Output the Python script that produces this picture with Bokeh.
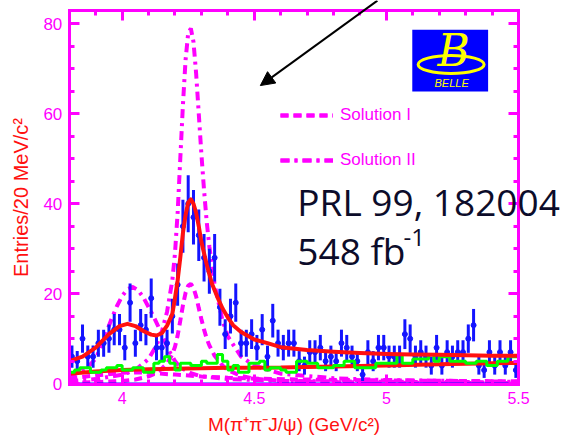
import numpy as np
from bokeh.plotting import figure
from bokeh.models import (Range1d, LinearAxis, FixedTicker, Label, Legend,
                          LegendItem, BoxAnnotation, Arrow, NormalHead, ColumnDataSource)
from bokeh.embed import file_html
from bokeh.resources import INLINE

# ---- histogram binning (20 MeV bins) ----
bin_lo, bin_hi, bin_w = 3.80, 5.50, 0.02
y_lo, y_hi = -0.2, 83.0

# events per bin, pi+ pi- J/psi candidates
counts = [6, 5, 10, 6, 6, 9, 9, 10, 12, 12,
          8, 18, 9, 13, 12, 19, 8, 8, 9, 15,
          22, 35, 40, 37, 33, 28, 25, 28, 17, 11,
          15, 18, 9, 9, 11, 8, 12, 6, 14, 9,
          8, 9, 9, 5, 4, 7, 7, 8, 5, 6,
          5, 9, 8, 6, 5, 2, 7, 5, 8, 8,
          6, 6, 6, 11, 10, 6, 7, 6, 4, 8,
          4, 7, 6, 7, 7, 10, 13, 4, 3, 7,
          4, 7, 4, 7, 3]

# J/psi mass sideband background (green histogram)
sideband = [2.5, 3.0, 3.5, 3.5, 2.5, 2.5, 3.0, 3.5, 3.5, 4.0,
            3.0, 3.0, 3.5, 3.5, 2.5, 2.5, 4.5, 5.0, 6.0, 4.5,
            3.0, 4.5, 4.5, 4.0, 4.0, 5.0, 4.5, 4.5, 6.5, 5.0,
            3.0, 4.0, 2.5, 2.5, 4.5, 4.5, 5.0, 3.0, 3.5, 3.5,
            3.0, 2.5, 2.5, 5.0, 5.0, 4.5, 4.5, 3.5, 3.5, 3.5,
            4.0, 4.0, 5.0, 5.0, 3.5, 3.5, 3.5, 3.5, 4.5, 4.5,
            4.5, 4.5, 6.5, 4.5, 4.5, 5.5, 5.5, 5.5, 6.5, 5.0,
            6.0, 6.0, 5.0, 5.0, 5.0, 4.5, 4.5, 5.0, 5.0, 4.0,
            4.0, 5.0, 5.0, 6.0, 6.0]

# total fit (red)
fit_x = [3.80, 3.85, 3.90, 3.95, 3.99, 4.02, 4.05, 4.08, 4.11, 4.13, 4.15, 4.17,
         4.19, 4.20, 4.21, 4.22, 4.23, 4.24, 4.25, 4.26, 4.27, 4.28, 4.29, 4.30,
         4.32, 4.34, 4.36, 4.38, 4.40, 4.42, 4.45, 4.50, 4.55, 4.60, 4.70, 4.80,
         4.90, 5.00, 5.10, 5.20, 5.30, 5.40, 5.50]
fit_y = [5.0, 6.0, 8.0, 11.0, 12.8, 13.3, 12.8, 11.7, 10.9, 10.7, 11.2, 12.9,
         15.5, 19.0, 23.0, 28.0, 33.5, 37.5, 40.3, 41.0, 40.0, 38.0, 35.0, 31.5,
         26.5, 22.2, 19.3, 16.7, 14.7, 13.0, 11.5, 9.8, 9.0, 8.1, 7.5, 7.1,
         6.8, 6.6, 6.5, 6.4, 6.3, 6.2, 6.2]

# fitted smooth background (red, lower)
bkg_x = [3.80, 3.90, 4.00, 4.10, 4.20, 4.40, 4.60, 4.80, 5.00, 5.20, 5.40, 5.50]
bkg_y = [2.2, 2.7, 3.0, 3.2, 3.3, 3.5, 3.6, 3.8, 4.0, 4.3, 4.5, 4.6]

# Solution I components (dashed)
s1_y4008_x = [3.80, 3.90, 4.00, 4.05, 4.10, 4.20, 4.30, 4.40, 4.50, 4.70, 5.00, 5.50]
s1_y4008_y = [1.2, 1.8, 2.4, 2.5, 2.4, 2.0, 1.6, 1.3, 1.1, 0.9, 0.7, 0.5]
s1_y4260_x = [3.80, 3.90, 4.00, 4.05, 4.10, 4.13, 4.15, 4.17, 4.19, 4.20, 4.21, 4.22,
              4.23, 4.24, 4.25, 4.26, 4.27, 4.28, 4.29, 4.30, 4.31, 4.32, 4.33, 4.35,
              4.38, 4.40, 4.45, 4.50, 4.60, 4.80, 5.00, 5.50]
s1_y4260_y = [0.2, 0.3, 0.6, 0.9, 1.6, 2.4, 3.3, 4.5, 6.5, 8.2, 10.7, 14.0,
              17.4, 20.2, 21.8, 22.2, 21.3, 19.4, 16.8, 14.3, 12.0, 10.0, 8.5, 6.2,
              4.0, 3.0, 1.7, 1.1, 0.6, 0.35, 0.2, 0.1]

# Solution II components (dash-dot)
s2_y4008_x = [3.80, 3.84, 3.88, 3.90, 3.92, 3.94, 3.96, 3.98, 4.00, 4.02, 4.04, 4.06,
              4.08, 4.10, 4.12, 4.14, 4.16, 4.18, 4.20, 4.22, 4.26, 4.30, 4.40, 4.60,
              5.00, 5.50]
s2_y4008_y = [1.5, 2.6, 4.3, 5.6, 8.2, 11.3, 14.4, 17.2, 19.5, 21.0, 21.5, 20.8,
              19.2, 17.0, 14.8, 12.3, 9.6, 7.0, 5.0, 3.6, 2.3, 1.6, 1.0, 0.6,
              0.4, 0.3]
s2_y4260_x = [3.80, 3.90, 4.00, 4.05, 4.10, 4.13, 4.15, 4.17, 4.19, 4.20, 4.21, 4.22,
              4.23, 4.24, 4.25, 4.26, 4.27, 4.28, 4.29, 4.30, 4.31, 4.32, 4.33, 4.35,
              4.38, 4.40, 4.45, 4.50, 4.60, 4.80, 5.00, 5.50]
s2_y4260_y = [0.5, 1.0, 2.0, 3.0, 5.5, 8.5, 11.5, 16.0, 23.0, 29.0, 38.0, 50.0,
              62.0, 72.0, 78.0, 79.0, 76.0, 69.0, 60.0, 51.0, 43.0, 36.0, 30.5, 22.0,
              14.0, 10.5, 6.0, 4.0, 2.2, 1.2, 0.8, 0.4]

x_major = [4.0, 4.5, 5.0, 5.5]
x_minor = [3.8, 3.9, 4.0, 4.1, 4.2, 4.3, 4.4, 4.5, 4.6, 4.7, 4.8, 4.9,
           5.0, 5.1, 5.2, 5.3, 5.4, 5.5]
y_major = [0, 20, 40, 60, 80]
y_minor = list(range(0, 85, 5))

MAGENTA = "#ff00ff"
RED = "#ff1010"
BLUE = "#1414ff"
GREEN = "#00ff00"
FONT = "Liberation Sans"

# canvas geometry: the plot box spans 69..518 px horizontally, 10..384 px vertically
W, H = 562, 439
box_l, box_r, box_t, box_b = 68.8, 518.0, 10.0, 384.0
sx = (box_r - box_l) / (bin_hi - bin_lo)
sy = (box_b - box_t) / (y_hi - y_lo)
x_range = Range1d(bin_lo - box_l / sx, bin_hi + (W - box_r) / sx)
y_range = Range1d(y_lo - (H - box_b) / sy, y_hi + box_t / sy)

counts = np.array(counts, dtype=float)
centers = bin_lo + bin_w * (np.arange(len(counts)) + 0.5)
errs = np.sqrt(counts)
edges = bin_lo + bin_w * np.arange(len(sideband) + 1)

p = figure(width=W, height=H, output_backend="svg", toolbar_location=None,
           x_range=x_range, y_range=y_range,
           min_border=0, background_fill_color="white", border_fill_color="white")
p.xgrid.visible = False
p.ygrid.visible = False
p.outline_line_color = None

# component curves
dash1 = "8 5"
dash2 = "9 5 3 5"
r_s1a = p.line(s1_y4008_x, s1_y4008_y, line_color=MAGENTA, line_width=4, line_dash=dash1)
r_s1b = p.line(s1_y4260_x, s1_y4260_y, line_color=MAGENTA, line_width=4, line_dash=dash1)
r_s2a = p.line(s2_y4008_x, s2_y4008_y, line_color=MAGENTA, line_width=4, line_dash=dash2)
r_s2b = p.line(s2_y4260_x, s2_y4260_y, line_color=MAGENTA, line_width=4, line_dash=dash2)

# zero line
p.line([bin_lo, bin_hi], [0, 0], line_color=BLUE, line_width=2)

# data with Poisson errors
src = ColumnDataSource(dict(x=centers, y=counts, lo=counts - errs, hi=counts + errs))
p.segment(x0="x", y0="lo", x1="x", y1="hi", source=src, line_color=BLUE, line_width=3)
p.scatter(x="x", y="y", source=src, size=5, fill_color=BLUE, line_color=BLUE)

# fitted background, sideband histogram, total fit
p.line(bkg_x, bkg_y, line_color=RED, line_width=4)
p.step(list(edges), list(sideband) + [sideband[-1]], mode="after",
       line_color=GREEN, line_width=3)
p.line(fit_x, fit_y, line_color=RED, line_width=4, line_join="round")

# frame axes, pinned to the plot box
bottom = p.below[0]
left = p.left[0]
bottom.ticker = FixedTicker(ticks=x_major, minor_ticks=x_minor)
left.ticker = FixedTicker(ticks=y_major, minor_ticks=y_minor)
bottom.major_label_overrides = {4.0: "4", 4.5: "4.5", 5.0: "5", 5.5: "5.5"}
bottom.fixed_location = y_lo
left.fixed_location = bin_lo

top = LinearAxis(ticker=FixedTicker(ticks=x_major, minor_ticks=x_minor),
                 fixed_location=y_hi)
right = LinearAxis(ticker=FixedTicker(ticks=y_major, minor_ticks=y_minor),
                   fixed_location=bin_hi)
p.add_layout(top, "above")
p.add_layout(right, "right")

for ax in [bottom, top]:
    ax.bounds = (bin_lo, bin_hi)
for ax in [left, right]:
    ax.bounds = (y_lo, y_hi)

for ax in [bottom, left, top, right]:
    ax.axis_line_color = MAGENTA
    ax.axis_line_width = 3
    ax.axis_line_cap = "square"
    ax.major_tick_line_color = MAGENTA
    ax.major_tick_line_width = 3
    ax.minor_tick_line_color = MAGENTA
    ax.minor_tick_line_width = 3
    ax.major_tick_in = 10
    ax.major_tick_out = 0
    ax.minor_tick_in = 5
    ax.minor_tick_out = 0
    ax.major_label_text_color = MAGENTA
    ax.major_label_text_font = FONT

for ax in [top, right]:
    ax.major_label_text_color = None
    ax.major_label_text_alpha = 0

bottom.major_label_text_font_size = "16px"
bottom.major_label_standoff = 7
left.major_label_text_font_size = "17px"
left.major_label_standoff = 7

bottom.axis_label = "M(π⁺π⁻J/ψ) (GeV/c²)"
left.axis_label = "Entries/20 MeV/c²"
for ax in [bottom, left]:
    ax.axis_label_text_color = RED
    ax.axis_label_text_font = FONT
    ax.axis_label_text_font_style = "normal"
bottom.axis_label_text_font_size = "19px"
left.axis_label_text_font_size = "20px"
bottom.axis_label_standoff = 7
left.axis_label_standoff = 9

# legend (location measured from the canvas bottom-left)
legend = Legend(items=[LegendItem(label="Solution I", renderers=[r_s1a, r_s1b]),
                       LegendItem(label="Solution II", renderers=[r_s2a, r_s2b])],
                location=(280, 269), orientation="vertical", glyph_width=53,
                glyph_height=20, label_height=20, label_standoff=7, spacing=25,
                padding=0, margin=0, border_line_color=None,
                background_fill_alpha=0, label_text_color=MAGENTA,
                label_text_font=FONT, label_text_font_size="17px")
p.add_layout(legend)

# arrow
p.add_layout(Arrow(end=NormalHead(size=14, fill_color="black", line_color="black"),
                   x_start=4.966, y_start=85.2, x_end=4.523, y_end=66.3,
                   line_color="black", line_width=2))

# Belle logo
p.add_layout(BoxAnnotation(left=5.098, right=5.385, bottom=65.0, top=78.7,
                           fill_color="#0000ff", fill_alpha=1, line_color=None))
p.ellipse(x=[5.245], y=[71.0], width=[66], height=[18], width_units="screen",
          height_units="screen", fill_color=None, line_color="#ffff00", line_width=3,
          level="overlay")
p.add_layout(Label(x=5.255, y=74.0, text="B", text_font="DejaVu Serif",
                   text_font_style="italic", text_font_size="44px",
                   text_color="#ffff00", text_align="center", text_baseline="middle",
                   level="overlay"))
p.add_layout(Label(x=5.247, y=66.8, text="BELLE", text_font=FONT,
                   text_font_style="italic", text_font_size="11px",
                   text_color="#ffff00", text_align="center", text_baseline="middle",
                   level="overlay"))

# reference text
INK = "#0c0c2a"
p.add_layout(Label(x=4.663, y=40.6, text="PRL 99, 182004", text_font="Open Sans",
                   text_font_size="37px", text_color=INK, text_baseline="alphabetic"))
p.add_layout(Label(x=4.663, y=29.6, text="548 fb", text_font="Open Sans",
                   text_font_size="37px", text_color=INK, text_baseline="alphabetic"))
p.add_layout(Label(x=5.065, y=32.6, text="-1", text_font="Open Sans",
                   text_font_size="24px", text_color=INK, text_baseline="alphabetic"))

open("out.html", "w").write(file_html(p, INLINE))
